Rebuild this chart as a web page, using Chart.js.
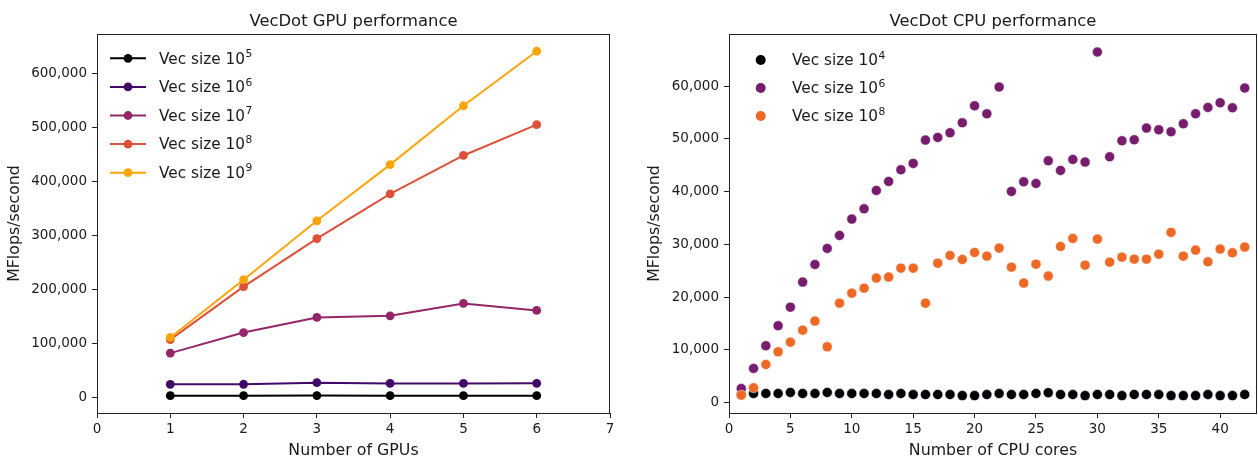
<!DOCTYPE html>
<html><head><meta charset="utf-8">
<script src="https://cdn.jsdelivr.net/npm/chart.js@4.4.0/dist/chart.umd.min.js"></script>
<style>
html,body{margin:0;padding:0;background:#fff;}
#wrap{position:relative;width:1258px;height:460px;overflow:hidden;background:#fff;}
canvas{position:absolute;top:0;}
</style></head><body>
<div id="wrap">
<canvas id="gpu" width="629" height="460" style="left:0;width:629px;height:460px"></canvas>
<canvas id="cpu" width="629" height="460" style="left:629px;width:629px;height:460px"></canvas>
</div>
<script>
// ---------- DATA ----------
const gpuCounts = [1, 2, 3, 4, 5, 6];
const gpuExps = ['5', '6', '7', '8', '9'];
const gpu_1e5 = [3200, 3100, 3300, 3100, 3200, 3100];
const gpu_1e6 = [24200, 24300, 27200, 25800, 25800, 26100];
const gpu_1e7 = [82000, 120000, 148000, 151000, 174000, 161000];
const gpu_1e8 = [107000, 205000, 294000, 377000, 448000, 505000];
const gpu_1e9 = [111000, 218000, 327000, 431000, 540000, 641000];
const gpuXTicks = [0, 1, 2, 3, 4, 5, 6, 7];
const gpuYTicks = [0, 100000, 200000, 300000, 400000, 500000, 600000];

const cpuCores = [1,2,3,4,5,6,7,8,9,10,11,12,13,14,15,16,17,18,19,20,21,22,23,24,25,26,27,28,29,30,31,32,33,34,35,36,37,38,39,40,41,42];
const cpuExps = ['4', '6', '8'];
const cpu_1e4 = [1500,1700,1700,1700,1900,1700,1700,1900,1700,1700,1700,1700,1500,1700,1500,1500,1500,1500,1300,1300,1500,1700,1500,1500,1700,1850,1500,1500,1300,1500,1500,1300,1500,1500,1500,1300,1300,1300,1500,1300,1300,1500];
const cpu_1e6 = [2650,6450,10750,14550,18080,22830,26180,29220,31680,34780,36740,40220,41930,44140,45350,49770,50280,51160,53060,56280,54760,59830,40040,41860,41550,45850,44020,46100,45600,66470,46600,49640,49830,52050,51730,51350,52870,54760,55970,56850,55900,59640];
const cpu_1e8 = [1385,2780,7210,9600,11440,13720,15430,10550,18840,20740,21690,23590,23780,25480,25480,18840,26430,27890,27130,28460,27760,29280,25670,22640,26240,23970,29600,31120,26050,30990,26620,27570,27190,27190,28140,32260,27760,28900,26680,29090,28390,29470];
const cpuXTicks = [0, 5, 10, 15, 20, 25, 30, 35, 40];
const cpuYTicks = [0, 10000, 20000, 30000, 40000, 50000, 60000];

const gpuColors = ['#000004', '#420a68', '#932667', '#dd513a', '#fca50a'];
const cpuColors = ['#000004', '#781c6d', '#ed6925'];

// ---------- HELPERS ----------
const FONT = '"DejaVu Sans", "Liberation Sans", sans-serif';
const TXT = '#1a1a1a';
const AX = '#222222';
const pts = (xs, ys) => xs.map((x, i) => ({x: x, y: ys[i]}));
const fmt = v => Number(v).toLocaleString('en-US');

function framePlugin(title, legend) {
  return {
    id: 'frame_' + title.replace(/\s/g, ''),
    afterDraw(chart) {
      const ctx = chart.ctx, a = chart.chartArea;
      ctx.save();
      ctx.strokeStyle = AX; ctx.lineWidth = 1;
      ctx.strokeRect(Math.round(a.left) + 0.5, Math.round(a.top) + 0.5,
                     Math.round(a.right - a.left) - 1, Math.round(a.bottom - a.top));
      ctx.fillStyle = TXT;
      ctx.font = '16.4px ' + FONT;
      ctx.textAlign = 'center'; ctx.textBaseline = 'alphabetic';
      ctx.fillText(title, (a.left + a.right) / 2, 25.5);
      // legend
      ctx.textAlign = 'left';
      legend.items.forEach((it, i) => {
        const y = legend.y0 + i * legend.dy;
        if (legend.line) {
          ctx.strokeStyle = it.color; ctx.lineWidth = 2;
          ctx.beginPath(); ctx.moveTo(legend.lx0, y); ctx.lineTo(legend.lx1, y); ctx.stroke();
        }
        ctx.fillStyle = it.color;
        ctx.beginPath(); ctx.arc(legend.mx, y, legend.r, 0, Math.PI * 2); ctx.fill();
        ctx.fillStyle = TXT;
        ctx.font = legend.fs + 'px ' + FONT;
        const base = 'Vec size 10';
        ctx.fillText(base, legend.tx, y + legend.bo);
        const w = ctx.measureText(base).width;
        ctx.font = (legend.fs * 0.7) + 'px ' + FONT;
        ctx.fillText(it.exp, legend.tx + w + 0.5, y + legend.bo - legend.fs * 0.42);
      });
      ctx.restore();
    }
  };
}

function scaleOpts(ticksArr, min, max, titleText, isY, widthOrHeight, titlePad) {
  return {
    type: 'linear', min: min, max: max,
    afterBuildTicks: s => { s.ticks = ticksArr.map(v => ({value: v})); },
    afterFit: s => {
      if (isY) { s.width = widthOrHeight; s.paddingTop = 0; s.paddingBottom = 0; }
      else { s.height = widthOrHeight; s.paddingLeft = 0; s.paddingRight = 0; }
    },
    grid: { display: true, drawOnChartArea: false, drawTicks: true, tickLength: 5, color: AX, tickWidth: 1 },
    border: { display: false },
    ticks: { color: TXT, font: { family: FONT, size: 13.5 }, padding: isY ? 5 : 3,
             maxRotation: 0, autoSkip: false, callback: v => fmt(v) },
    title: { display: true, text: titleText, color: TXT, font: { family: FONT, size: 15.8 },
             padding: titlePad }
  };
}

// ---------- GPU CHART ----------
const gpuSeries = [gpu_1e5, gpu_1e6, gpu_1e7, gpu_1e8, gpu_1e9];
new Chart(document.getElementById('gpu'), {
  type: 'line',
  data: {
    datasets: gpuSeries.map((s, i) => ({
      label: 'Vec size 10^' + gpuExps[i],
      data: pts(gpuCounts, s),
      borderColor: gpuColors[i], backgroundColor: gpuColors[i],
      pointBackgroundColor: gpuColors[i], pointBorderWidth: 0,
      pointRadius: 4.4, borderWidth: 2, tension: 0, fill: false,
      order: -i
    }))
  },
  options: {
    responsive: false, animation: false, devicePixelRatio: 1,
    layout: { autoPadding: false, padding: { left: 0, right: 19, top: 34, bottom: 0 } },
    plugins: { legend: { display: false }, tooltip: { enabled: false } },
    scales: {
      x: scaleOpts(gpuXTicks, 0, 7, 'Number of GPUs', false, 47, { top: 0, bottom: 0 }),
      y: scaleOpts(gpuYTicks, -28900, 672900, 'MFlops/second', true, 97, { top: 5.6, bottom: 0 })
    }
  },
  plugins: [framePlugin('VecDot GPU performance', {
    line: true, y0: 58.3, dy: 28.6, lx0: 110, lx1: 146, mx: 128, r: 4.4, tx: 159, bo: 5.2, fs: 15.3,
    items: gpuColors.map((c, i) => ({color: c, exp: gpuExps[i]}))
  })]
});

// ---------- CPU CHART ----------
const cpuSeries = [cpu_1e4, cpu_1e6, cpu_1e8];
new Chart(document.getElementById('cpu'), {
  type: 'scatter',
  data: {
    datasets: cpuSeries.map((s, i) => ({
      label: 'Vec size 10^' + cpuExps[i],
      data: pts(cpuCores, s),
      backgroundColor: cpuColors[i], pointBackgroundColor: cpuColors[i],
      pointBorderColor: 'rgba(255,255,255,0.8)', pointBorderWidth: 0.6,
      pointRadius: 5, showLine: false,
      order: -i
    }))
  },
  options: {
    responsive: false, animation: false, devicePixelRatio: 1,
    layout: { autoPadding: false, padding: { left: 0, right: 1, top: 34, bottom: 0 } },
    plugins: { legend: { display: false }, tooltip: { enabled: false } },
    scales: {
      x: scaleOpts(cpuXTicks, 0, 43, 'Number of CPU cores', false, 47, { top: 0, bottom: 0 }),
      y: scaleOpts(cpuYTicks, -2000, 69900, 'MFlops/second', true, 100, { top: 16.6, bottom: 0 })
    }
  },
  plugins: [framePlugin('VecDot CPU performance', {
    line: false, y0: 60, dy: 28, mx: 131.7, r: 5, tx: 163, bo: 5.2, fs: 15.3,
    items: cpuColors.map((c, i) => ({color: c, exp: cpuExps[i]}))
  })]
});
</script>
</body></html>
